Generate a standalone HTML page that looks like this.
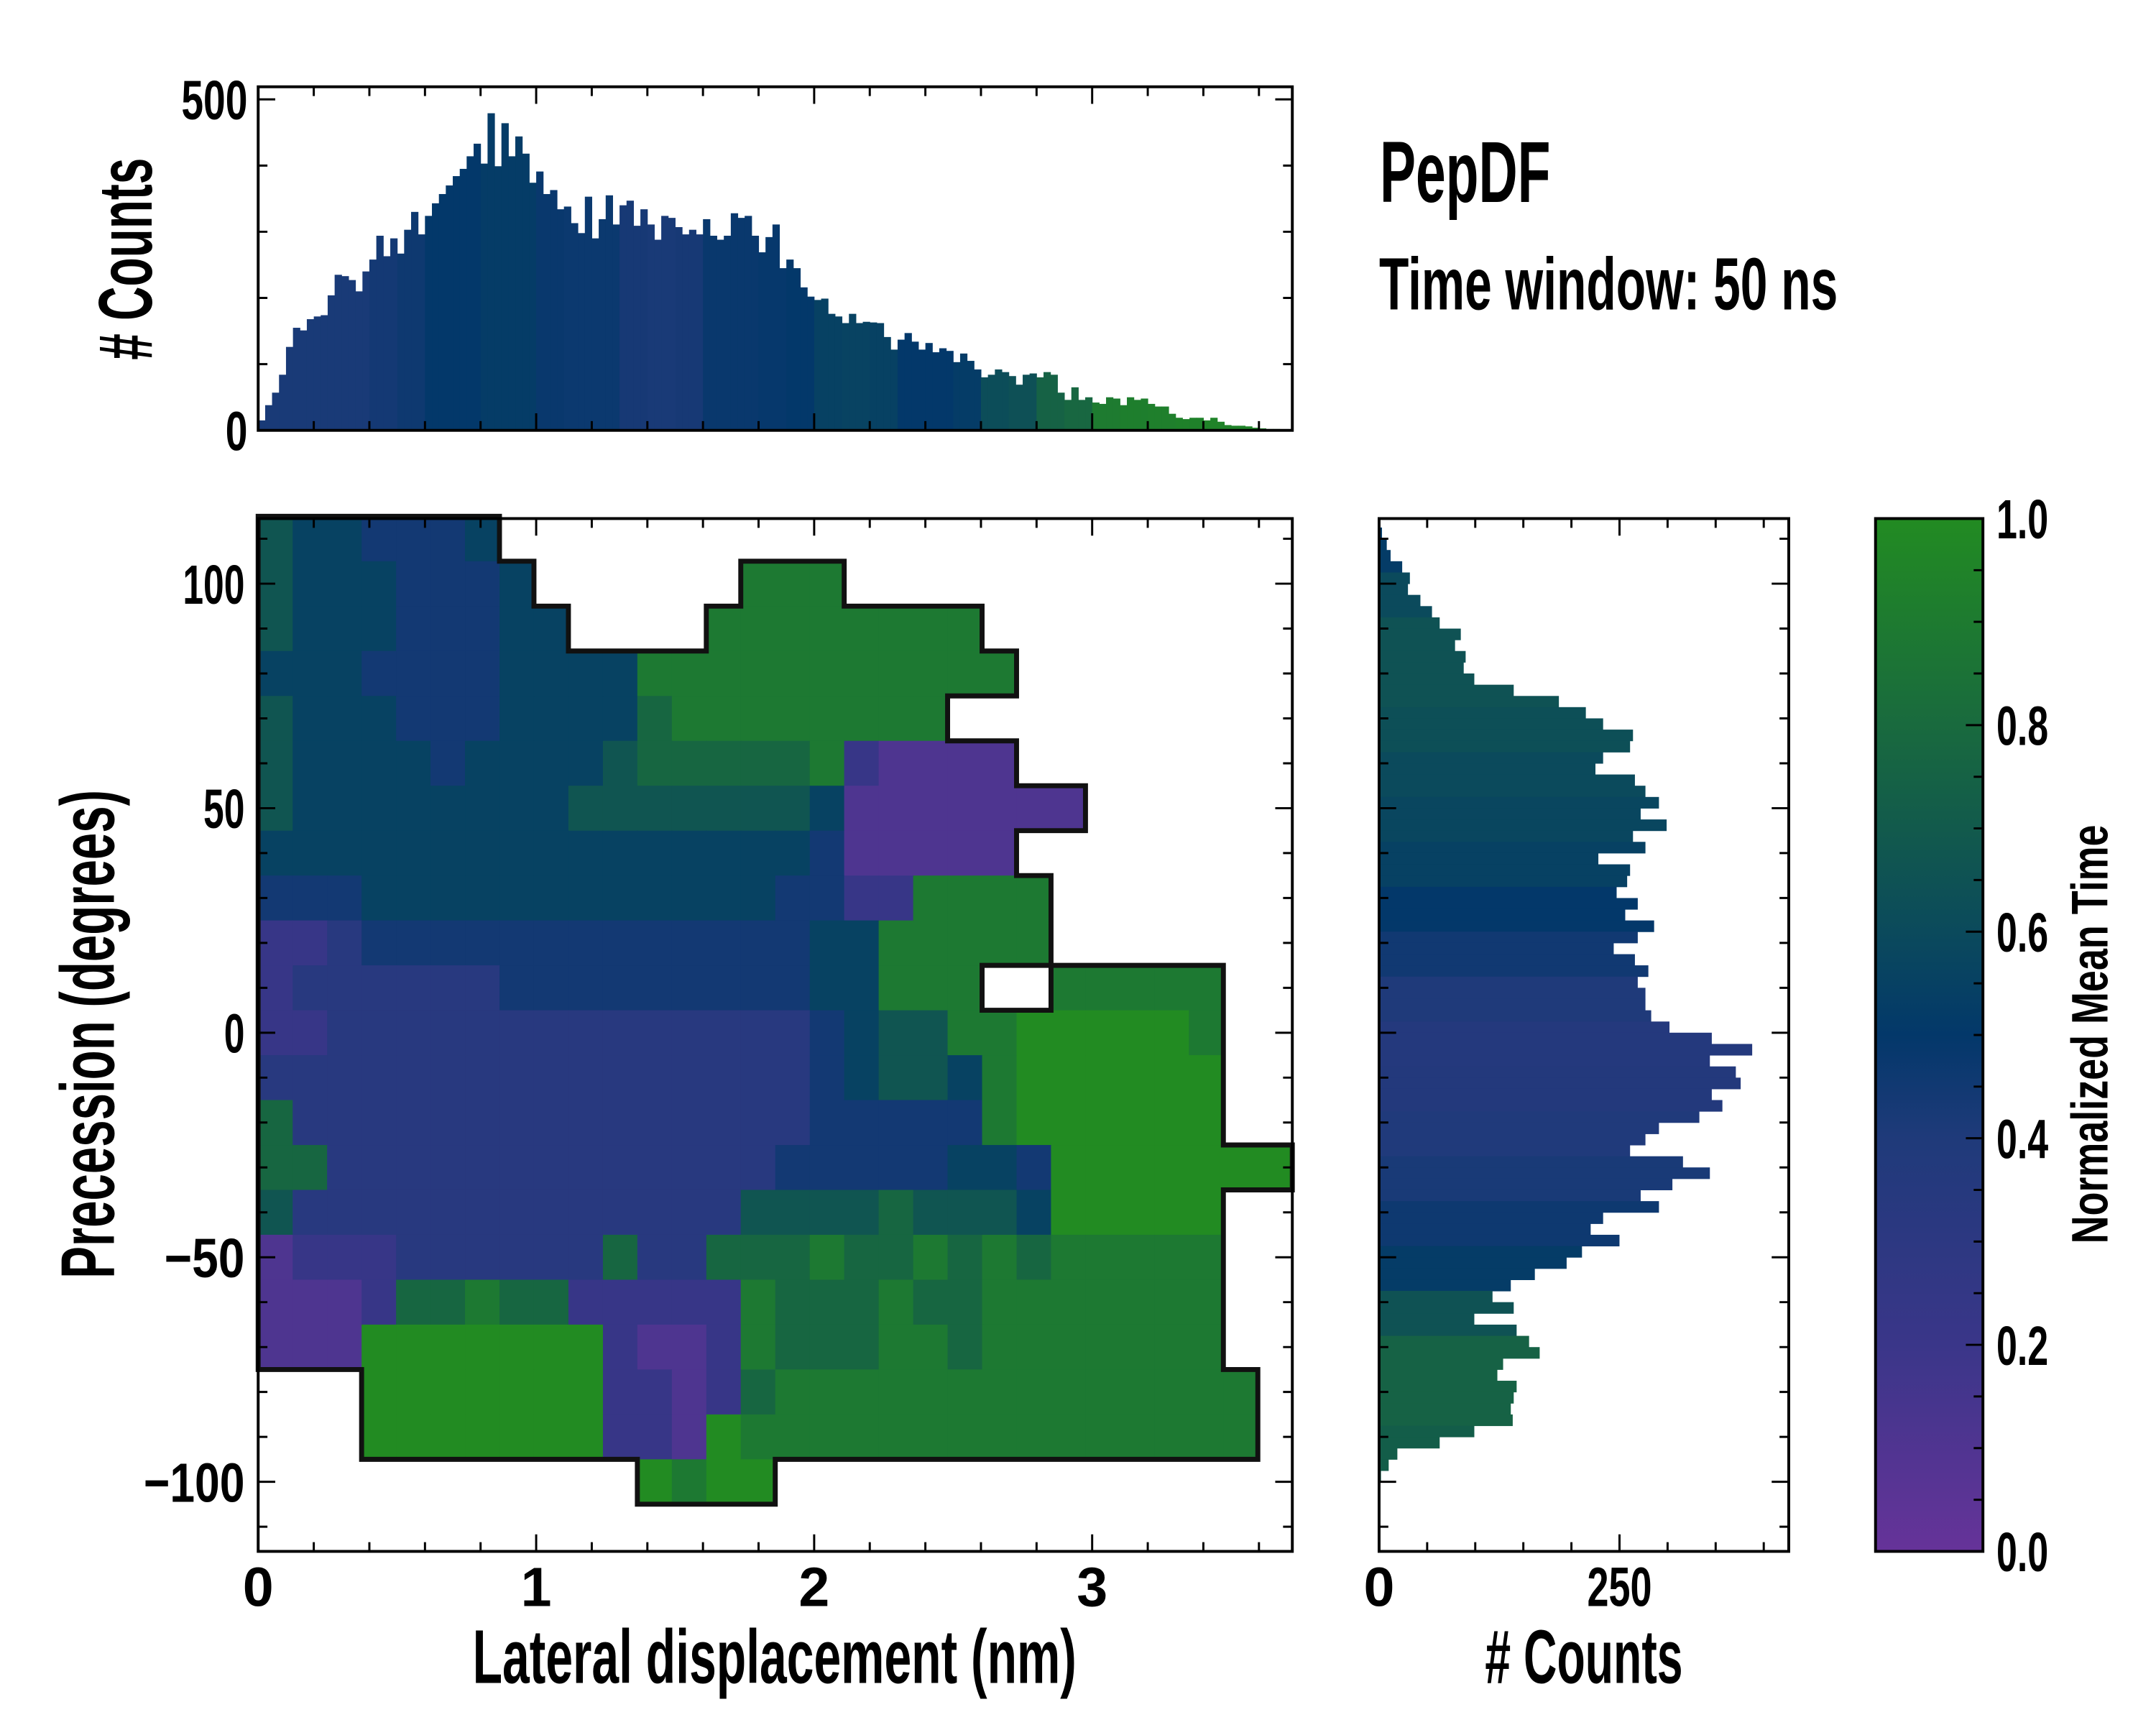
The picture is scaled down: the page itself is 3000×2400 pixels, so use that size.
<!DOCTYPE html>
<html><head><meta charset="utf-8">
<style>
html,body{margin:0;padding:0;background:#fff;}
svg{display:block;}
text{font-family:"Liberation Sans Narrow","Liberation Sans",sans-serif;font-weight:bold;fill:#000;}
</style></head>
<body>
<svg id="fig" xmlns="http://www.w3.org/2000/svg" width="3000" height="2400" viewBox="0 0 3000 2400">
<rect x="0" y="0" width="3000" height="2400" fill="#fff"/>
<defs>
<linearGradient id="cbgrad" x1="0" y1="1" x2="0" y2="0">
<stop offset="0" stop-color="#663399"/><stop offset="0.2" stop-color="#3a3689"/><stop offset="0.4" stop-color="#1f3a7a"/><stop offset="0.5" stop-color="#03386a"/><stop offset="0.6" stop-color="#0b4a5c"/><stop offset="0.7" stop-color="#125a4c"/><stop offset="0.8" stop-color="#196a3e"/><stop offset="1" stop-color="#228b22"/>
</linearGradient>
</defs>
<g transform="scale(0.98966)">
<g id="heat"></g>
<g id="outline"></g>
<g id="tophist"></g>
<g id="righthist"></g>
<rect x="2637" y="729" width="151" height="1452" fill="url(#cbgrad)"/>
<g id="ticks"></g>
<rect x="363" y="729" width="1454" height="1452" fill="none" stroke="#000" stroke-width="4"/>
<rect x="363" y="122" width="1454" height="483" fill="none" stroke="#000" stroke-width="4"/>
<rect x="1939" y="729" width="576" height="1452" fill="none" stroke="#000" stroke-width="4"/>
<rect x="2637" y="729" width="151" height="1452" fill="none" stroke="#000" stroke-width="4"/>
<g id="labels"></g>
<text x="1940" y="284" font-size="122" textLength="240" lengthAdjust="spacingAndGlyphs">PepDF</text>
<text x="1939" y="435" font-size="104" textLength="645" lengthAdjust="spacingAndGlyphs">Time window: 50 ns</text>
<text x="1089" y="2366" font-size="107" text-anchor="middle" textLength="849" lengthAdjust="spacingAndGlyphs">Lateral displacement (nm)</text>
<text x="2227" y="2366" font-size="107" text-anchor="middle" textLength="278" lengthAdjust="spacingAndGlyphs"># Counts</text>
<text transform="translate(160,1454) rotate(-90)" x="0" y="0" font-size="107" text-anchor="middle" textLength="687" lengthAdjust="spacingAndGlyphs">Precession (degrees)</text>
<text transform="translate(213,364) rotate(-90)" x="0" y="0" font-size="107" text-anchor="middle" textLength="284" lengthAdjust="spacingAndGlyphs"># Counts</text>
<text transform="translate(2963,1454) rotate(-90)" x="0" y="0" font-size="72" text-anchor="middle" textLength="589" lengthAdjust="spacingAndGlyphs">Normalized Mean Time</text>
</g>
</svg>
<script>
// ---- data ----
// Heatmap: 30 columns (0.124 nm each, 0..3.72), 23 rows (10 deg each, 115 -> -115). digit = mean time*9, '.' = empty
const heatRows = [
"6554445.......................",
"65554445......888.............",
"655544455....88888888.........",
"5554444555588888888888........",
"65554445555788888888..........",
"6555545555677777821111........",
"655555555666666651111111......",
"5555555555555555411111........",
"44455555555555544228888.......",
"22344444444444445588888.......",
"233333344444444455888..88888..",
"2233333333333333456688999998..",
"3333333333333333456658999999..",
"7333333333333333444448999999..",
"773333333333333444445549999999",
"6333333333333366667666599999..",
"1222333333733777877878788888..",
"1112778772222287778778888888..",
"1119999999211287778878888888..",
"...99999992212788888888888888.",
"...99999992219888888888888888.",
"...........9899...............",
".............................."
];
const heatXMin = 0, heatXStep = 0.124, heatYTop = 115, heatYStep = 10;

// Top histogram (lateral displacement), bins of 0.025 nm from 0
const topCounts = [15,38,57,84,126,155,151,168,172,174,204,235,233,227,210,240,258,294,263,290,267,303,330,296,324,343,357,370,384,395,414,433,403,479,399,464,414,444,418,374,391,357,363,334,338,313,298,353,290,319,355,311,340,347,309,334,311,288,324,321,307,296,303,296,319,294,288,294,328,321,324,294,269,292,311,245,258,245,216,202,197,199,176,172,162,176,162,164,163,162,141,122,137,147,134,122,132,118,124,120,103,116,105,92,80,84,92,88,82,69,84,86,80,88,84,57,46,65,46,50,42,40,50,48,38,50,46,48,40,36,36,25,19,17,19,19,15,19,13,8,7,7,6,4,3,2,2,1];
const topBinWidth = 0.025;
// mean-time colour per 0.1 nm chunk
const topColor = [0.42,0.42,0.42,0.42,0.44,0.46,0.5,0.5,0.52,0.52,0.48,0.47,0.47,0.43,0.42,0.43,0.48,0.48,0.49,0.5,0.55,0.56,0.55,0.5,0.5,0.52,0.62,0.64,0.75,0.78,0.9,0.92,0.93,0.94,0.95,0.95,0.95,0.95];

// Right histogram (precession), bins of 2.5 deg starting at 112.5 going down
const rightCounts = [3,8,12,24,32,30,43,55,63,85,79,90,88,99,140,187,215,233,264,261,233,225,266,277,291,272,299,264,277,228,261,258,247,269,256,286,269,244,266,280,269,277,277,283,302,346,388,344,371,376,346,357,333,291,277,261,316,344,305,272,291,233,220,250,211,195,162,137,118,140,99,143,156,167,129,123,143,140,137,139,99,63,19,10,2];
const rightTop = 112.5, rightBin = 2.5;
// colour per 10-degree chunk (4 bins)
const rightColor = [0.52,0.6,0.65,0.65,0.63,0.6,0.58,0.55,0.5,0.45,0.4,0.36,0.37,0.39,0.42,0.46,0.52,0.65,0.75,0.75,0.72,0.72];

// tick label arrays
const xTickVals = [0,1,2,3];
const yTickVals = [100,50,0,-50,-100];
const topYTicks = [0,500];
const rightXTicks = [0,250];
const cbTicks = [0,0.2,0.4,0.6,0.8,1.0];

// ---- axes ----
const M = {l:363,r:1817,t:729,b:2181,x0:0,x1:3.72,y0:-115.5,y1:114.5};
const T = {t:122,b:605,y1:519};
const R = {l:1939,r:2515,x1:426};
const CB = {l:2637,r:2788};
const sx = v => M.l + (v-M.x0)/(M.x1-M.x0)*(M.r-M.l);
const sy = v => M.t + (M.y1-v)/(M.y1-M.y0)*(M.b-M.t);
const ty = v => T.b - v/T.y1*(T.b-T.t);
const rx = v => R.l + v/R.x1*(R.r-R.l);
const cy = v => M.b - v*(M.b-M.t);

const stops=[[0,[0x66,0x33,0x99]],[0.2,[0x3a,0x36,0x89]],[0.4,[0x1f,0x3a,0x7a]],[0.5,[0x03,0x38,0x6a]],[0.6,[0x0b,0x4a,0x5c]],[0.7,[0x12,0x5a,0x4c]],[0.8,[0x19,0x6a,0x3e]],[1,[0x22,0x8b,0x22]]];
function cmap(v){v=Math.max(0,Math.min(1,v));for(let i=1;i<stops.length;i++){if(v<=stops[i][0]){const a=stops[i-1],b=stops[i];const f=(v-a[0])/(b[0]-a[0]);const c=a[1].map((x,k)=>Math.round(x+(b[1][k]-x)*f));return `rgb(${c[0]},${c[1]},${c[2]})`;}}return 'rgb(34,139,34)';}
const NS="http://www.w3.org/2000/svg";
function mk(tag,attrs,parent){const e=document.createElementNS(NS,tag);for(const k in attrs)e.setAttribute(k,attrs[k]);parent.appendChild(e);return e;}

// heatmap
const heat=document.getElementById('heat');
const nC=30,nR=heatRows.length;
const filled=(r,c)=>r>=0&&r<nR&&c>=0&&c<nC&&(heatRows[r][c]||'.')!=='.';
for(let r=0;r<nR;r++){for(let c=0;c<nC;c++){const ch=heatRows[r][c];if(!ch||ch==='.')continue;
 const x0=sx(heatXMin+c*heatXStep),x1=sx(heatXMin+(c+1)*heatXStep);
 const yTop=sy(heatYTop-r*heatYStep),yBot=sy(heatYTop-(r+1)*heatYStep);
 const e=mk('rect',{x:x0.toFixed(1),y:yTop.toFixed(1),width:(x1-x0+0.6).toFixed(1),height:(yBot-yTop+0.6).toFixed(1),fill:cmap(parseInt(ch)/9)},heat);
 
 
}}
// outline
const ol=document.getElementById('outline');let d='';
for(let r=0;r<nR;r++)for(let c=0;c<nC;c++){if(!filled(r,c))continue;
 const x0=sx(c*heatXStep),x1=sx((c+1)*heatXStep),y0=sy(heatYTop-r*heatYStep),y1=sy(heatYTop-(r+1)*heatYStep);
 if(!filled(r-1,c))d+=`M${x0} ${y0}H${x1}`;
 if(!filled(r+1,c))d+=`M${x0} ${y1}H${x1}`;
 if(!filled(r,c-1))d+=`M${x0} ${y0}V${y1}`;
 if(!filled(r,c+1))d+=`M${x1} ${y0}V${y1}`;}
const op=mk('path',{d:d,fill:'none',stroke:'#111',"stroke-width":7,"stroke-linecap":"square"},ol);



// top hist
const th=document.getElementById('tophist');
topCounts.forEach((v,i)=>{const x0=sx(i*topBinWidth),x1=sx((i+1)*topBinWidth);const col=topColor[Math.floor(i*topBinWidth/0.1+1e-9)];
 const e=mk('rect',{x:x0.toFixed(1),y:ty(v).toFixed(1),width:(x1-x0+0.5).toFixed(1),height:(T.b-ty(v)).toFixed(1),fill:cmap(col)},th);
 
 
});
// right hist
const rh=document.getElementById('righthist');
rightCounts.forEach((v,i)=>{const y0=sy(rightTop-i*rightBin),y1=sy(rightTop-(i+1)*rightBin);const col=rightColor[Math.floor(i/4)];
 const e=mk('rect',{x:R.l,y:y0.toFixed(1),width:(rx(v)-R.l).toFixed(1),height:(y1-y0+0.5).toFixed(1),fill:cmap(col)},rh);
 
 
});

// ticks
const tk=document.getElementById('ticks');let td='';
for(let v=0;v<=3.7;v+=0.2){const x=sx(v);const major=Math.abs(v-Math.round(v))<1e-6;const L=major?24:13;
 td+=`M${x} ${M.b}v${-L}M${x} ${M.t}v${L}M${x} ${T.b}v${-L}M${x} ${T.t}v${L}`;}
for(let v=-110;v<=110;v+=10){const y=sy(v);const L=(v%50===0)?24:13;
 td+=`M${M.l} ${y}h${L}M${M.r} ${y}h${-L}M${R.l} ${y}h${L}M${R.r} ${y}h${-L}`;}
for(let v=0;v<=500;v+=100){const y=ty(v);const L=(v%500===0)?24:13;td+=`M${M.l} ${y}h${L}M${M.r} ${y}h${-L}`;}
for(let v=0;v<=400;v+=50){const x=rx(v);const L=(v%250===0)?24:13;td+=`M${x} ${M.b}v${-L}M${x} ${M.t}v${L}`;}
for(let v=0;v<=1.0001;v+=0.05){const y=cy(v);const L=(Math.abs(v*5-Math.round(v*5))<1e-6)?24:13;td+=`M${CB.r} ${y}h${-L}`;}
const tp=mk('path',{d:td,stroke:'#000',"stroke-width":3,fill:'none'},tk);



// labels
const lb=document.getElementById('labels');
function lab(txt,x,y,anchor,w,name){const a={x:x,y:y,"font-size":78,"text-anchor":anchor};if(w){a.textLength=w;a.lengthAdjust='spacingAndGlyphs';}const e=mk('text',a,lb);e.textContent=txt;
 
 
 return e;}
xTickVals.forEach(v=>lab(String(v),sx(v),2258,'middle',null,'x-tick-label'));
yTickVals.forEach(v=>{const s=v<0?'\u2212'+Math.abs(v):String(v);const w=s.length*29+(v<0?26:0);lab(s,344,sy(v)+28,'end',w,'y-tick-label');});
topYTicks.forEach(v=>lab(String(v),348,ty(v)+28,'end',String(v).length*31,'top-hist-y-tick-label'));
rightXTicks.forEach(v=>lab(String(v),rx(v),2258,'middle',String(v).length>1?91:null,'right-hist-x-tick-label'));
cbTicks.forEach(v=>lab(v.toFixed(1),2807,cy(v)+28,'start',73,'colorbar-tick-label'));
</script>
</body></html>
